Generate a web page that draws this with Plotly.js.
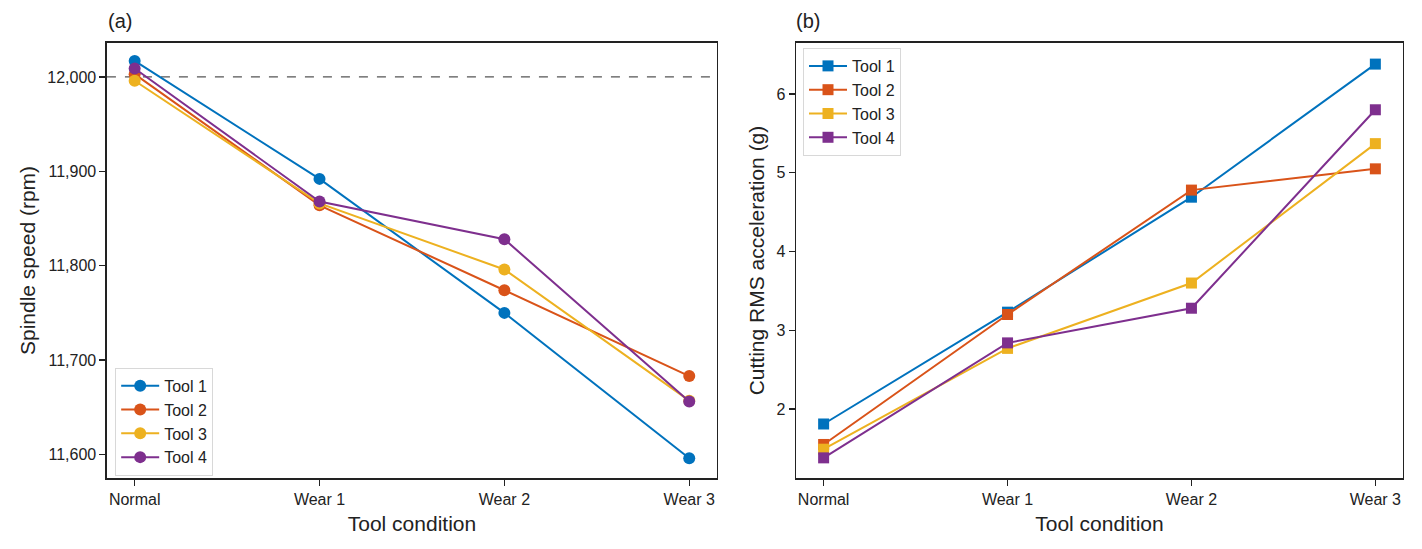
<!DOCTYPE html>
<html>
<head>
<meta charset="utf-8">
<script src="https://cdn.plot.ly/plotly-3.0.1.min.js"></script>
<style>
  html, body { margin: 0; padding: 0; background: #fff; }
  #chart { width: 1422px; height: 549px; }
</style>
</head>
<body>
<div id="chart"></div>
<script>
// Tool conditions (shared x categories)
var conditions = ["Normal", "Wear 1", "Wear 2", "Wear 3"];
var toolNames = ["Tool 1", "Tool 2", "Tool 3", "Tool 4"];

// (a) Spindle speed, rpm
var speedTool1 = [12017, 11892, 11750, 11596];
var speedTool2 = [12003, 11864, 11774, 11683];
var speedTool3 = [11996, 11866, 11796, 11657];
var speedTool4 = [12009, 11868, 11828, 11656];
var nominalSpeed = 12000;

// (b) Cutting RMS acceleration, g
var accTool1 = [1.81, 3.23, 4.69, 6.38];
var accTool2 = [1.55, 3.20, 4.78, 5.05];
var accTool3 = [1.49, 2.77, 3.60, 5.37];
var accTool4 = [1.38, 2.84, 3.28, 5.80];

var colors = ["#0072BD", "#D95319", "#EDB120", "#7E2F8E"];
var font = "Liberation Sans, Arial, sans-serif";

var speedSeries = [speedTool1, speedTool2, speedTool3, speedTool4];
var accSeries = [accTool1, accTool2, accTool3, accTool4];

var data = [];
speedSeries.forEach(function (ys, i) {
  data.push({
    x: conditions, y: ys, name: toolNames[i],
    type: "scatter", mode: "lines+markers",
    line: {color: colors[i], width: 2},
    marker: {symbol: "circle", size: 12, color: colors[i]},
    xaxis: "x", yaxis: "y", legend: "legend"
  });
});
accSeries.forEach(function (ys, i) {
  data.push({
    x: conditions, y: ys, name: toolNames[i],
    type: "scatter", mode: "lines+markers",
    line: {color: colors[i], width: 2},
    marker: {symbol: "square", size: 11, color: colors[i]},
    xaxis: "x2", yaxis: "y2", legend: "legend2"
  });
});

var axisBase = {
  showline: true, linecolor: "#222", linewidth: 1.5, mirror: true,
  ticks: "outside", ticklen: 6, tickwidth: 1.2, tickcolor: "#222",
  showgrid: false, zeroline: false,
  tickfont: {family: font, size: 16, color: "#222"}
};

function axis(extra) {
  return Object.assign({}, axisBase, extra);
}

var titleFont = {family: font, size: 21, color: "#222"};

var legendBase = {
  bgcolor: "#fff", bordercolor: "#d8d8d8", borderwidth: 1,
  font: {family: font, size: 16, color: "#222"},
  xanchor: "left", yanchor: "top", tracegroupgap: 0, itemwidth: 38
};

var layout = {
  width: 1422, height: 549,
  margin: {l: 0, r: 0, t: 0, b: 0},
  paper_bgcolor: "#fff", plot_bgcolor: "#fff",
  font: {family: font, color: "#222"},
  xaxis: axis({domain: [0.0752, 0.5042], type: "category", range: [-0.15, 3.15],
    anchor: "y", title: {text: "Tool condition", font: titleFont, standoff: 9}}),
  yaxis: axis({domain: [0.1293, 0.9217], range: [11575, 12036], anchor: "x",
    tickvals: [11600, 11700, 11800, 11900, 12000], tickformat: ",d",
    title: {text: "Spindle speed (rpm)", font: titleFont, standoff: 6}}),
  xaxis2: axis({domain: [0.5598, 0.9866], type: "category", range: [-0.15, 3.15],
    anchor: "y2", title: {text: "Tool condition", font: titleFont, standoff: 9}}),
  yaxis2: axis({domain: [0.1293, 0.9217], range: [1.124, 6.648], anchor: "x2",
    tickvals: [2, 3, 4, 5, 6],
    title: {text: "Cutting RMS acceleration (g)", font: titleFont, standoff: 6}}),
  legend: Object.assign({}, legendBase, {x: 0.081, y: 0.330}),
  legend2: Object.assign({}, legendBase, {x: 0.5647, y: 0.9126}),
  shapes: [{
    type: "line", xref: "x domain", yref: "y", x0: 0, x1: 1,
    y0: nominalSpeed, y1: nominalSpeed,
    line: {color: "#555", width: 1.3, dash: "dash"}, layer: "below"
  }],
  annotations: [
    {text: "(a)", xref: "paper", yref: "paper", x: 0.0742, y: 0.962,
     xanchor: "left", yanchor: "middle", showarrow: false,
     font: {family: font, size: 20, color: "#222"}},
    {text: "(b)", xref: "paper", yref: "paper", x: 0.5587, y: 0.962,
     xanchor: "left", yanchor: "middle", showarrow: false,
     font: {family: font, size: 20, color: "#222"}}
  ],
  showlegend: true
};

Plotly.newPlot("chart", data, layout, {displayModeBar: false, staticPlot: true});
</script>
</body>
</html>
